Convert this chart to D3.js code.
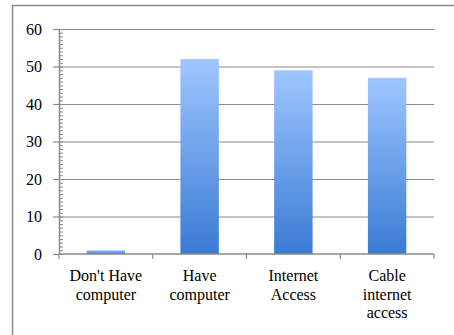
<!DOCTYPE html>
<html>
<head>
<meta charset="utf-8">
<script src="https://cdn.jsdelivr.net/npm/d3@7"></script>
<style>
  body { margin: 0; background: #fff; }
  svg { display: block; }
  svg text { font-family: "Liberation Serif", "Times New Roman", Times, "DejaVu Serif", serif; }
</style>
</head>
<body>
<div id="chart"></div>
<script>
const categories = ["Don't Have computer", "Have computer", "Internet Access", "Cable internet access"];
const catLines = [["Don't Have", "computer"], ["Have", "computer"], ["Internet", "Access"], ["Cable", "internet", "access"]];
const values = [1, 52, 49, 47];
const yTicks = [0, 10, 20, 30, 40, 50, 60];

const width = 454, height = 335;
const margin = { top: 29, right: 20, bottom: 81, left: 59 };
const innerW = width - margin.left - margin.right;
const innerH = height - margin.top - margin.bottom;
const grey = "#8a8a8a";

const svg = d3.select("#chart").append("svg")
  .attr("width", width)
  .attr("height", height);

// outer frame (cut off at right / bottom)
svg.append("rect")
  .attr("x", 12.5).attr("y", 5.5)
  .attr("width", width).attr("height", height)
  .attr("fill", "none")
  .attr("stroke", grey)
  .attr("stroke-width", 1.5);

const defs = svg.append("defs");
const grad = defs.append("linearGradient")
  .attr("id", "barGrad")
  .attr("x1", 0).attr("y1", 0).attr("x2", 0).attr("y2", 1);
grad.append("stop").attr("offset", "0%").attr("stop-color", "#9fc6ff");
grad.append("stop").attr("offset", "100%").attr("stop-color", "#3a7bd3");

const chart = svg.append("g")
  .attr("transform", `translate(${margin.left},${margin.top})`);

const x = d3.scaleBand()
  .domain(categories)
  .range([0, innerW])
  .padding(0);

const y = d3.scaleLinear()
  .domain([0, 60])
  .range([innerH, 0]);

// gridlines
chart.append("g")
  .call(d3.axisLeft(y).tickValues(yTicks.slice(1)).tickSize(-innerW).tickFormat(""))
  .call(g => g.selectAll(".tick line").attr("stroke", grey).attr("stroke-width", 1.2))
  .call(g => g.select(".domain").remove());

// bars
const barFrac = 0.41;
chart.selectAll("rect.bar")
  .data(values)
  .join("rect")
  .attr("class", "bar")
  .attr("x", (d, i) => x(categories[i]) + x.bandwidth() * (1 - barFrac) / 2)
  .attr("width", x.bandwidth() * barFrac)
  .attr("y", d => y(d))
  .attr("height", d => y(0) - y(d))
  .attr("fill", "url(#barGrad)");

// y minor ticks
chart.append("g")
  .call(d3.axisRight(y).tickValues(d3.range(0, 61, 1)).tickSize(4).tickFormat(""))
  .call(g => g.selectAll(".tick line").attr("stroke", grey))
  .call(g => g.select(".domain").remove());

// y axis
chart.append("g")
  .call(d3.axisLeft(y).tickValues(yTicks).tickSize(6).tickPadding(11).tickSizeOuter(0))
  .call(g => g.select(".domain").attr("stroke", grey).attr("stroke-width", 1.5))
  .call(g => g.selectAll(".tick line").attr("stroke", grey).attr("stroke-width", 1.2))
  .call(g => g.selectAll("text")
    .attr("fill", "#000")
    .attr("font-family", null)
    .attr("font-size", null)
    .style("font-size", "16px"));

// x axis
const xAxis = chart.append("g")
  .attr("transform", `translate(0,${innerH})`);
xAxis.append("line")
  .attr("x1", 0).attr("x2", innerW)
  .attr("stroke", grey).attr("stroke-width", 1.5);
xAxis.selectAll("line.tick")
  .data(categories.concat([null]))
  .join("line")
  .attr("class", "tick")
  .attr("x1", (d, i) => d ? x(d) : innerW)
  .attr("x2", (d, i) => d ? x(d) : innerW)
  .attr("y1", 0).attr("y2", 5)
  .attr("stroke", grey).attr("stroke-width", 1.2);

const labels = xAxis.selectAll("text")
  .data(categories)
  .join("text")
  .attr("x", d => x(d) + x.bandwidth() / 2)
  .attr("y", 27)
  .attr("text-anchor", "middle")
  .style("font-size", "16px")
  .attr("fill", "#000");

labels.selectAll("tspan")
  .data((d, i) => catLines[i])
  .join("tspan")
  .attr("x", function() { return this.parentNode.getAttribute("x"); })
  .attr("dy", (d, i) => i === 0 ? 0 : 18.5)
  .text(d => d);
</script>
</body>
</html>
